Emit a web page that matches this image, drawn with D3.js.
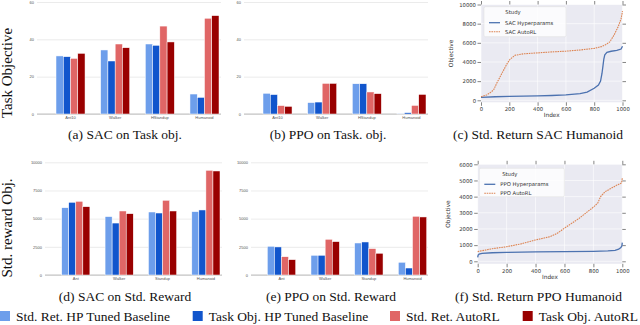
<!DOCTYPE html>
<html><head>
<meta charset="utf-8">
<script src="https://d3js.org/d3.v7.min.js"></script>
<style>
  body { margin: 0; background: #fff; }
  .cap { font-family: "Liberation Serif", "Times New Roman", serif; font-size: 13.5px; fill: #111; }
  .bar-axis text { font-family: "Liberation Sans", sans-serif; font-size: 4px; fill: #555; }
  .bar-axis .domain { stroke: none; }
  .bar-axis line { stroke: #ddd; stroke-width: 0.6; }
  .sns text { font-family: "DejaVu Sans", sans-serif; font-size: 5.3px; fill: #333; }
  .sns .domain { stroke: none; }
  .sns line { stroke: #333; stroke-width: 0.6; }
</style>
</head>
<body>
<svg id="fig" width="640" height="325"></svg>
<script>
// ---- data ----
let catsTop = ["Ant10", "Walker", "HStandup", "Humanoid"];
let catsBottom = ["Ant", "Walker", "Standup", "Humanoid"];
let seriesNames = ["Std. Ret. HP Tuned Baseline", "Task Obj. HP Tuned Baseline", "Std. Ret. AutoRL", "Task Obj. AutoRL"];
let seriesColors = ["#6d9eeb", "#1155cc", "#e06666", "#990000"];

// rows = category, columns = series
let sacTask = [[31.1, 30.7, 29.8, 32.5], [34.3, 28.4, 37.5, 35.5], [37.5, 36.8, 47.1, 38.6], [10.7, 8.9, 51.3, 52.7]];
let ppoTask = [[11.1, 10.4, 4.5, 4.1], [6.1, 6.4, 16.4, 16.4], [16.2, 16.2, 11.8, 10.9], [0.3, 0.7, 4.6, 10.5]];
let sacStd = [[5970, 6450, 6540, 6060], [5180, 4610, 5680, 5440], [5590, 5500, 6630, 5680], [5620, 5770, 9290, 9230]];
let ppoStd = [[2550, 2490, 1620, 1360], [1750, 1750, 3170, 2960], [2840, 2930, 2340, 1930], [1130, 620, 5210, 5150]];
let taskTicks = [0, 20, 40, 60];
let stdTicks = [0, 2500, 5000, 7500, 10000];

// sorted study curves (index, objective)
let sacHpIndex = [0, 100, 200, 300, 400, 500, 600, 700, 750, 800, 830, 845, 855, 862, 868, 875, 890, 920, 960, 990, 1000];
let sacHpValue = [310, 370, 410, 440, 470, 500, 560, 700, 850, 1250, 1600, 2000, 2800, 3600, 4300, 4750, 5000, 5120, 5200, 5350, 5650];
let sacAutoIndex = [0, 40, 70, 90, 110, 135, 160, 185, 205, 240, 300, 400, 500, 600, 700, 800, 850, 880, 910, 940, 970, 990, 1000];
let sacAutoValue = [380, 560, 850, 1100, 1750, 2450, 3150, 3850, 4280, 4700, 4850, 4950, 5050, 5130, 5250, 5420, 5600, 5800, 6100, 6800, 7700, 8500, 9300];
let ppoHpIndex = [0, 3, 10, 30, 100, 200, 400, 600, 800, 900, 950, 975, 990, 997, 1000];
let ppoHpValue = [250, 380, 450, 490, 530, 555, 580, 595, 615, 640, 680, 750, 850, 950, 1150];
let ppoAutoIndex = [0, 100, 200, 300, 400, 500, 550, 600, 700, 800, 830, 850, 880, 920, 960, 995, 1000];
let ppoAutoValue = [600, 780, 900, 1080, 1320, 1520, 1730, 2050, 2650, 3350, 3600, 4000, 4300, 4500, 4700, 4850, 5150];
let indexTicks = [0, 200, 400, 600, 800, 1000];
let sacObjTicks = [0, 2000, 4000, 6000, 8000, 10000];
let ppoObjTicks = [0, 1000, 2000, 3000, 4000, 5000, 6000];

let svg = d3.select("#fig");
let plain = d3.format("d");

// ---- grouped bar panel ----
function barPanel(p) {
  let g = svg.append("g");
  let y = d3.scaleLinear().domain([0, p.ticks[p.ticks.length - 1]]).range([p.bottom, p.top]);
  let x0 = d3.scaleBand().domain(p.cats).range(p.bands).paddingInner(0.35).paddingOuter(0);
  let x1 = d3.scaleBand().domain(d3.range(4)).range([0, x0.bandwidth()]);

  g.append("g").attr("class", "bar-axis")
    .attr("transform", "translate(" + p.gridLeft + ",0)")
    .call(d3.axisLeft(y).tickValues(p.ticks).tickFormat(plain).tickSize(-(p.gridRight - p.gridLeft)).tickPadding(3));
  g.append("line").attr("x1", p.gridLeft).attr("x2", p.gridRight)
    .attr("y1", y(0)).attr("y2", y(0)).attr("stroke", "#999").attr("stroke-width", 0.6);

  let groups = g.selectAll("g.grp").data(p.values).join("g").attr("class", "grp")
    .attr("transform", (d, i) => "translate(" + x0(p.cats[i]) + ",0)");
  groups.selectAll("rect").data(d => d).join("rect")
    .attr("x", (d, j) => x1(j))
    .attr("width", x1.bandwidth())
    .attr("y", d => y(d))
    .attr("height", d => y(0) - y(d))
    .attr("fill", (d, j) => seriesColors[j])
    .attr("stroke", "#fff").attr("stroke-width", 0.5);

  g.selectAll("text.cat").data(p.cats).join("text").attr("class", "cat")
    .attr("x", d => x0(d) + x0.bandwidth() / 2).attr("y", y(0) + 5)
    .attr("text-anchor", "middle")
    .style("font-family", "Liberation Sans, sans-serif").style("font-size", "4px").style("fill", "#555")
    .text(d => d);
}

barPanel({ cats: catsTop, values: sacTask, ticks: taskTicks, top: 2, bottom: 114, bands: [56, 219], gridLeft: 37, gridRight: 221 });
barPanel({ cats: catsTop, values: ppoTask, ticks: taskTicks, top: 2, bottom: 114, bands: [263, 426], gridLeft: 244, gridRight: 428 });
barPanel({ cats: catsBottom, values: sacStd, ticks: stdTicks, top: 162.3, bottom: 275, bands: [61.7, 220], gridLeft: 45, gridRight: 222 });
barPanel({ cats: catsBottom, values: ppoStd, ticks: stdTicks, top: 162.3, bottom: 275, bands: [267.3, 426.7], gridLeft: 251, gridRight: 428 });

// ---- seaborn style line panel ----
function linePanel(p) {
  let g = svg.append("g").attr("class", "sns");
  let x = d3.scaleLinear().domain([0, 1000]).range([p.left, p.right]);
  let y = d3.scaleLinear().domain([0, p.ticks[p.ticks.length - 1]]).range([p.zeroY, p.top]);
  let plotBottom = p.zeroY + p.pad;

  g.append("rect").attr("x", p.left).attr("y", p.top)
    .attr("width", p.right - p.left).attr("height", plotBottom - p.top).attr("fill", "#eaeaf2");
  // white grid
  g.selectAll("line.gx").data(indexTicks).join("line").attr("class", "gx")
    .attr("x1", d => x(d)).attr("x2", d => x(d)).attr("y1", p.top).attr("y2", plotBottom)
    .style("stroke", "#fff").style("stroke-width", 0.6);
  g.selectAll("line.gy").data(p.ticks).join("line").attr("class", "gy")
    .attr("x1", p.left).attr("x2", p.right).attr("y1", d => y(d)).attr("y2", d => y(d))
    .style("stroke", "#fff").style("stroke-width", 0.6);

  let ts = 3.5;
  g.append("g").attr("transform", "translate(0," + plotBottom + ")")
    .call(d3.axisBottom(x).tickValues(indexTicks).tickFormat(plain).tickSize(ts).tickPadding(1.5));
  g.append("g").attr("transform", "translate(0," + p.top + ")")
    .call(d3.axisTop(x).tickValues(indexTicks).tickSize(ts).tickFormat(""));
  g.append("g").attr("transform", "translate(" + p.left + ",0)")
    .call(d3.axisLeft(y).tickValues(p.ticks).tickFormat(plain).tickSize(ts).tickPadding(1.5));
  g.append("g").attr("transform", "translate(" + p.right + ",0)")
    .call(d3.axisRight(y).tickValues(p.ticks).tickSize(ts).tickFormat(""));

  let line = d3.line().x(d => x(d[0])).y(d => y(d[1]));
  g.append("path").datum(d3.zip(p.hpIndex, p.hpValue)).attr("d", line)
    .attr("fill", "none").attr("stroke", "#4c72b0").attr("stroke-width", 1.3);
  g.append("path").datum(d3.zip(p.autoIndex, p.autoValue)).attr("d", line)
    .attr("fill", "none").attr("stroke", "#dd8452").attr("stroke-width", 1.1).attr("stroke-dasharray", "1.6,0.8");

  g.append("text").attr("transform", "translate(" + (p.left - 28) + "," + ((p.top + plotBottom) / 2) + ") rotate(-90)")
    .attr("text-anchor", "middle").style("font-size", "5.8px").text("Objective");
  g.append("text").attr("x", (p.left + p.right) / 2).attr("y", plotBottom + 15)
    .attr("text-anchor", "middle").style("font-size", "5.8px").text("Index");

  // legend
  let L = p.legend;
  g.append("rect").attr("x", L.x).attr("y", L.y).attr("width", L.w).attr("height", L.h)
    .attr("rx", 1.5).attr("fill", "#fff").attr("fill-opacity", 0.8).attr("stroke", "#ddd").attr("stroke-width", 0.5);
  g.append("text").attr("x", L.x + L.w / 2 - 12).attr("y", L.y + 7.5).attr("text-anchor", "middle").text("Study");
  g.append("line").attr("x1", L.x + 5).attr("x2", L.x + 16).attr("y1", L.y + 16).attr("y2", L.y + 16)
    .style("stroke", "#4c72b0").style("stroke-width", 1.3);
  g.append("line").attr("x1", L.x + 5).attr("x2", L.x + 16).attr("y1", L.y + 25).attr("y2", L.y + 25)
    .style("stroke", "#dd8452").style("stroke-width", 1.1).style("stroke-dasharray", "1.6,0.8");
  g.append("text").attr("x", L.x + 21).attr("y", L.y + 18).text(p.names[0]);
  g.append("text").attr("x", L.x + 21).attr("y", L.y + 27).text(p.names[1]);
}

linePanel({ left: 481, right: 622.5, top: 4.5, zeroY: 100.3, pad: 2, ticks: sacObjTicks,
  hpIndex: sacHpIndex, hpValue: sacHpValue, autoIndex: sacAutoIndex, autoValue: sacAutoValue,
  names: ["SAC Hyperparams", "SAC AutoRL"], legend: { x: 484, y: 6.7, w: 82, h: 30 } });
linePanel({ left: 477.7, right: 622.3, top: 164.3, zeroY: 261.3, pad: 2.5, ticks: ppoObjTicks,
  hpIndex: ppoHpIndex, hpValue: ppoHpValue, autoIndex: ppoAutoIndex, autoValue: ppoAutoValue,
  names: ["PPO Hyperparams", "PPO AutoRL"], legend: { x: 479.3, y: 168.3, w: 85, h: 28.4 } });

// ---- captions and row titles ----
let captions = [
  ["(a) SAC on Task obj.", 125, 138.5], ["(b) PPO on Task. obj.", 328, 138.5], ["(c) Std. Return SAC Humanoid", 538, 138.5],
  ["(d) SAC on Std. Reward", 125, 300.5], ["(e) PPO on Std. Reward", 331, 300.5], ["(f) Std. Return PPO Humanoid", 538.5, 300.5]
];
svg.selectAll("text.caption").data(captions).join("text").attr("class", "cap caption")
  .attr("x", d => d[1]).attr("y", d => d[2]).attr("text-anchor", "middle")
  .style("font-family", "Liberation Serif, serif").text(d => d[0]);

svg.append("text").attr("class", "cap").attr("transform", "translate(12,73) rotate(-90)")
  .attr("text-anchor", "middle").style("font-size", "15px").text("Task Objective");
svg.append("text").attr("class", "cap").attr("transform", "translate(12,228) rotate(-90)")
  .attr("text-anchor", "middle").style("font-size", "15px").text("Std. reward Obj.");

// ---- bottom legend ----
let legendX = [0, 192.7, 390, 522.7];
let leg = svg.selectAll("g.leg").data(seriesNames).join("g").attr("class", "leg")
  .attr("transform", (d, i) => "translate(" + legendX[i] + ",311)");
leg.append("rect").attr("width", 10).attr("height", 10).attr("fill", (d, i) => seriesColors[i]);
leg.append("text").attr("class", "cap").attr("x", 16).attr("y", 9.5)
  .style("font-family", "Liberation Serif, serif").text(d => d);
</script>
</body></html>
